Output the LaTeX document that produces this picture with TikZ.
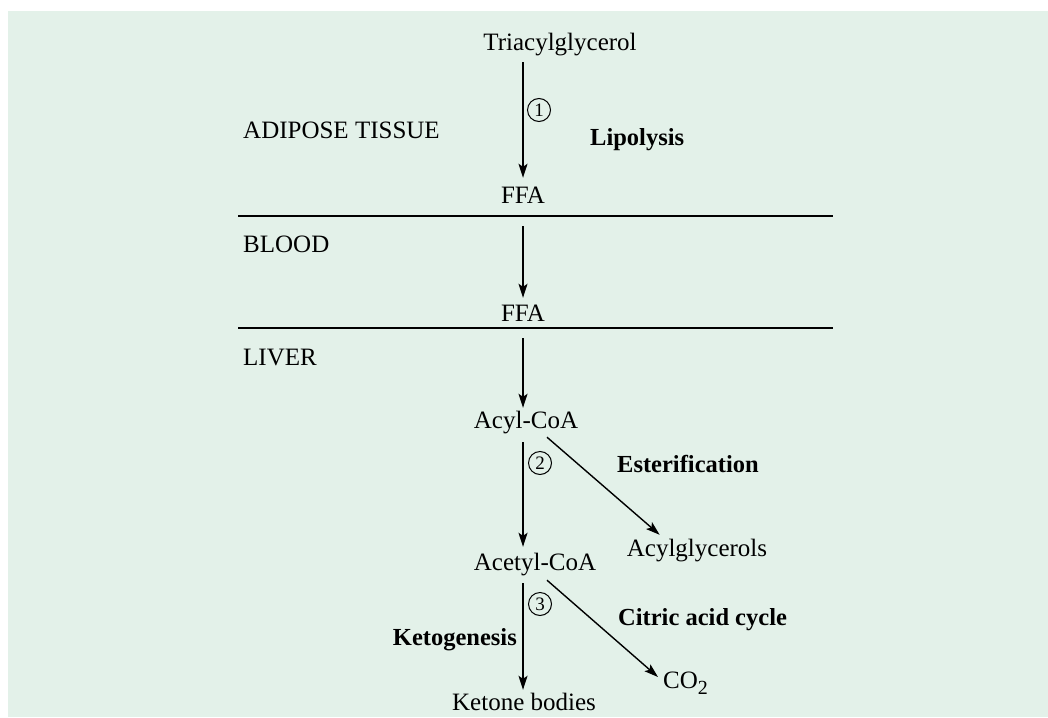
\documentclass[tikz,border=0pt]{standalone}
\usepackage{fontspec}
\setmainfont{Liberation Serif}
\usetikzlibrary{arrows.meta}
\definecolor{bgreen}{RGB}{227,241,233}
\tikzset{
  lbl/.style={inner sep=0pt, text height=17pt, text depth=5pt, font=\fontsize{25}{28}\selectfont},
  blbl/.style={lbl, font=\fontsize{24.5}{28}\selectfont\bfseries},
  num/.style={draw, circle, line width=1pt, inner sep=0pt, minimum size=23pt, font=\fontsize{19}{20}\selectfont},
  arr/.style={line width=1.4pt, -{Stealth[length=14pt,width=9pt,inset=3pt]}},
  sep/.style={line width=2pt}
}
\begin{document}
\begin{tikzpicture}[x=1pt,y=-1pt]
\useasboundingbox (0,0) rectangle (1048,717);
\fill[bgreen] (8,11) rectangle (1048,717);
% separator lines
\coordinate (l1a) at (238,216); \coordinate (l1b) at (833,216);
\coordinate (l2a) at (238,328); \coordinate (l2b) at (833,328);
\draw[sep] (l1a) -- (l1b);
\draw[sep] (l2a) -- (l2b);
% region labels
\node[lbl, anchor=base west] (adipose) at (243,138) {ADIPOSE TISSUE};
\node[lbl, anchor=base west] (blood) at (243,252) {BLOOD};
\node[lbl, anchor=base west] (liver) at (243,365) {LIVER};
% metabolites
\node[lbl, anchor=base] (tri) at (560,51) {Triacylglycerol};
\node[lbl, anchor=base] (ffa1) at (523,203) {FFA};
\node[lbl, anchor=base] (ffa2) at (523,321) {FFA};
\node[lbl, anchor=base] (acyl) at (526,428) {Acyl-CoA};
\node[lbl, anchor=base] (acetyl) at (535,570) {Acetyl-CoA};
\node[lbl, anchor=base] (acylg) at (697,556) {Acylglycerols};
\node[lbl, anchor=base] (ketone) at (524,710) {Ketone bodies};
\node[lbl, anchor=base west] (co2) at (663,688) {CO\raisebox{-6pt}{\fontsize{20}{20}\selectfont 2}};
% process labels
\node[blbl, anchor=base west] (lipolysis) at (590,145) {Lipolysis};
\node[blbl, anchor=base west] (ester) at (617,472) {Esterification};
\node[blbl, anchor=base west] (citric) at (618,625) {Citric acid cycle};
\node[blbl, anchor=base east] (keto) at (517,645) {Ketogenesis};
% step numbers
\node[num] (n1) at (539,110) {1};
\node[num] (n2) at (540,463) {2};
\node[num] (n3) at (540,604) {3};
% arrows
\draw[arr, shorten <=6pt, shorten >=8pt] (tri.south -| ffa1) -- (ffa1.north);
\draw[arr, shorten <=18pt, shorten >=6pt] (ffa1.south) -- (ffa2.north);
\draw[arr, shorten <=12pt, shorten >=3pt] (ffa2.south) -- (acyl.north -| ffa2);
\draw[arr, shorten <=9pt, shorten >=6pt] (acyl.south -| ffa2) -- (acetyl.north -| ffa2);
\draw[arr, shorten <=8pt, shorten >=3pt] (acetyl.south -| ffa2) -- (ketone.north -| ffa2);
\draw[arr] ([xshift=21pt,yshift=-4pt]acyl.south) -- ([xshift=33pt,yshift=4pt]acylg.north west);
\draw[arr] ([xshift=12pt,yshift=-5pt]acetyl.south) -- ([xshift=-5pt,yshift=5pt]co2.west);
\end{tikzpicture}
\end{document}
